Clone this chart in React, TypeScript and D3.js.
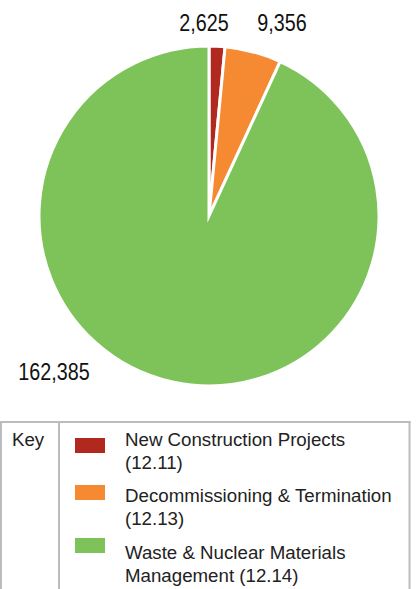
import React from "react";
import * as d3 from "d3";

const categories = [
  "New Construction Projects (12.11)",
  "Decommissioning & Termination (12.13)",
  "Waste & Nuclear Materials Management (12.14)",
];
const legendLines = [
  ["New Construction Projects", "(12.11)"],
  ["Decommissioning & Termination", "(12.13)"],
  ["Waste & Nuclear Materials", "Management (12.14)"],
];
const values = [2625, 9356, 162385];
const colors = ["#b1281f", "#f58a33", "#7ec35a"];

const W = 419;
const H = 589;
const cx = 209;
const cy = 216;
const R = 170;

// label anchor placement (layout)
const labelPos = [
  { x: 204, y: 31 },
  { x: 282, y: 31 },
  { x: 54, y: 380 },
];

export default function App() {
  const pie = d3
    .pie<number>()
    .sort(null)
    .value((d) => d)
    .startAngle(0)
    .endAngle(2 * Math.PI);
  const arcs = pie(values);
  const arc = d3.arc<d3.PieArcDatum<number>>().innerRadius(0).outerRadius(R);
  const fmt = d3.format(",");

  const tableTop = 422;
  const swatchY = [438, 485, 538];
  const baseY = [446, 502, 559];
  const lineH = 23;

  return (
    <svg
      width={W}
      height={H}
      style={{ position: "absolute", left: 0, top: 0, background: "#fff" }}
      fontFamily="'Liberation Sans', Arial, Helvetica, sans-serif"
    >
      <g transform={`translate(${cx},${cy})`}>
        {arcs.map((a, i) => (
          <path
            key={i}
            d={arc(a) || ""}
            fill={colors[i]}
            stroke="#fff"
            strokeWidth={3}
            strokeLinejoin="miter"
            strokeMiterlimit={10}
          />
        ))}
      </g>
      {values.map((v, i) => (
        <text
          key={i}
          transform={`translate(${labelPos[i].x},${labelPos[i].y}) scale(0.84,1)`}
          textAnchor="middle"
          fontSize={23.5}
          fill="#111"
        >
          {fmt(v)}
        </text>
      ))}
      {/* legend table */}
      <g stroke="#babcc0" strokeWidth={2} fill="none">
        <line x1={0} x2={410.5} y1={tableTop} y2={tableTop} />
        <line x1={1} x2={1} y1={tableTop - 1} y2={H} />
        <line x1={59} x2={59} y1={tableTop} y2={H} />
        <line x1={409.5} x2={409.5} y1={tableTop - 1} y2={H} />
      </g>
      <text x={12} y={446} fontSize={18.7} fill="#222">
        Key
      </text>
      {categories.map((c, i) => (
        <g key={c}>
          <rect x={75} y={swatchY[i]} width={30} height={15} fill={colors[i]} />
          {legendLines[i].map((t, j) => (
            <text key={j} x={125} y={baseY[i] + j * lineH} fontSize={18.7} fill="#222">
              {t}
            </text>
          ))}
        </g>
      ))}
    </svg>
  );
}
